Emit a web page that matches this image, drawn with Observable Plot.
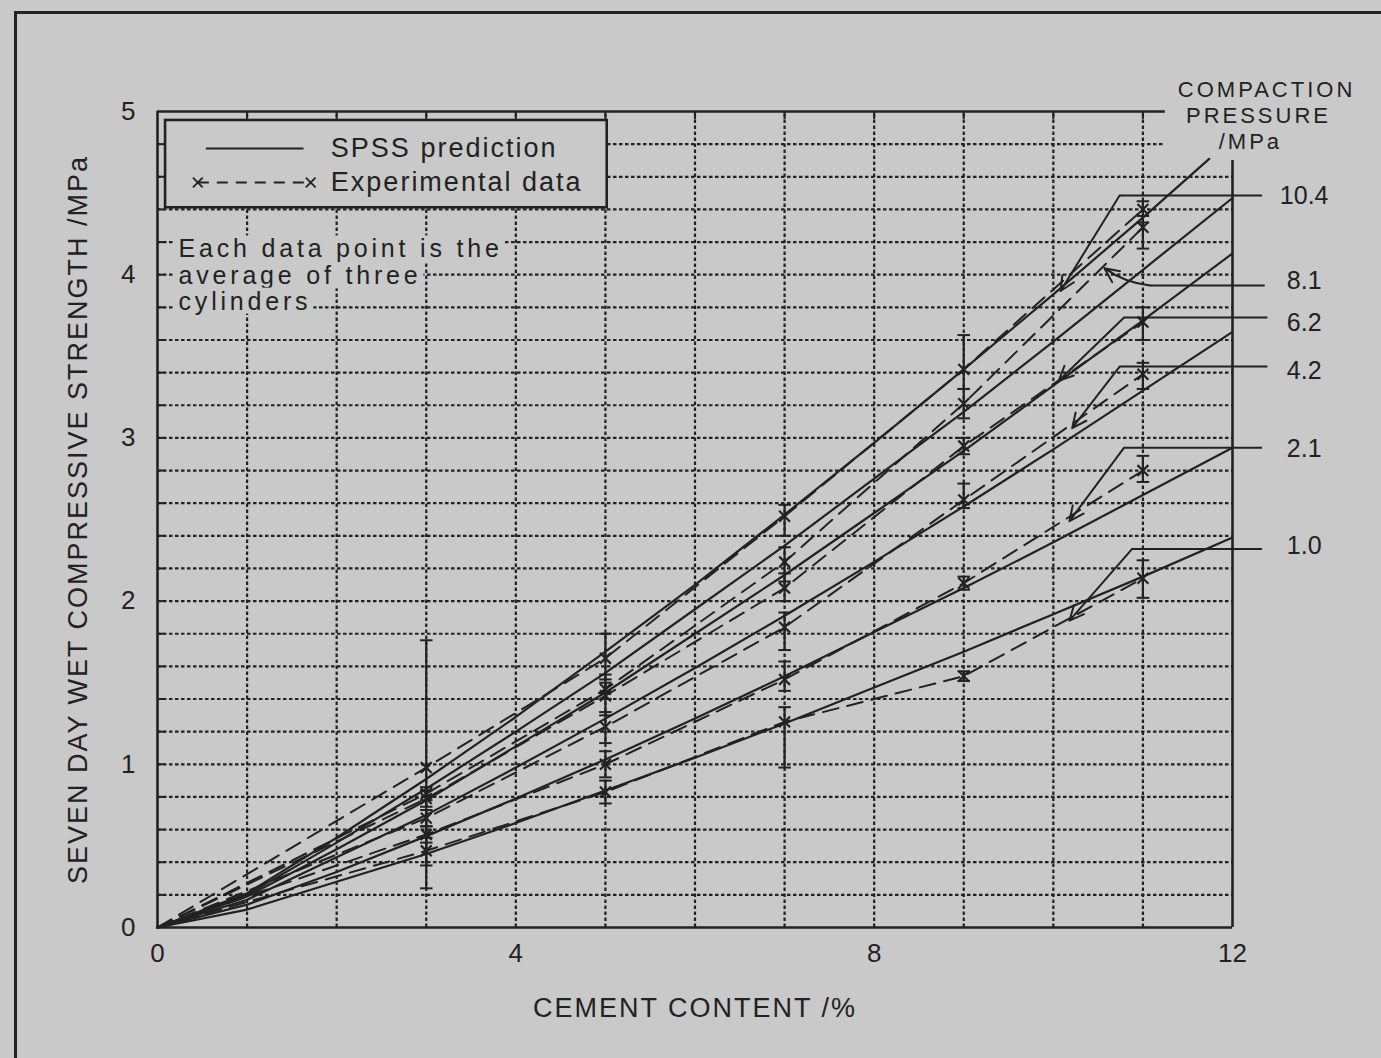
<!DOCTYPE html>
<html><head><meta charset="utf-8">
<script src="https://cdn.jsdelivr.net/npm/d3@7"></script>
<script src="https://cdn.jsdelivr.net/npm/@observablehq/plot@0.6"></script>
<style>
html,body{margin:0;padding:0;background:#c9c9c9;}
#wrap{position:relative;width:1381px;height:1058px;overflow:hidden;background:#c9c9c9;}
#frame{position:absolute;left:14px;top:11px;width:1400px;height:1100px;border-left:3px solid #232323;border-top:3px solid #232323;}
#chart{position:absolute;left:0;top:0;}
</style></head>
<body><div id="wrap"><div id="frame"></div><div id="chart"></div></div>
<script>
// ---- data ----
const pressures = ["10.4", "8.1", "6.2", "4.2", "2.1", "1.0"];
// SPSS prediction curves
const predX = [0, 1, 2, 3, 4, 5, 6, 7, 8, 9, 10, 11, 12];
const predX104 = [0, 1, 2, 3, 4, 5, 6, 7, 8, 9, 10, 11, 11.74];
const pred104 = [0, 0.21, 0.55, 0.91, 1.29, 1.69, 2.10, 2.53, 2.97, 3.42, 3.88, 4.35, 4.71];
const pred81  = [0, 0.20, 0.52, 0.85, 1.20, 1.56, 1.95, 2.34, 2.75, 3.16, 3.59, 4.03, 4.47];
const pred62  = [0, 0.19, 0.48, 0.78, 1.11, 1.44, 1.80, 2.16, 2.54, 2.92, 3.32, 3.72, 4.13];
const pred42  = [0, 0.17, 0.43, 0.69, 0.98, 1.28, 1.59, 1.91, 2.24, 2.58, 2.93, 3.29, 3.65];
const pred21  = [0, 0.14, 0.34, 0.56, 0.79, 1.03, 1.28, 1.54, 1.81, 2.08, 2.36, 2.65, 2.94];
const pred10  = [0, 0.11, 0.28, 0.45, 0.64, 0.84, 1.04, 1.25, 1.47, 1.69, 1.92, 2.15, 2.39];
// experimental data (averages) and error bars
const expX = [0, 3, 5, 7, 9, 11];
const exp104 = [0, 0.98, 1.65, 2.52, 3.42, 4.40];
const exp81  = [0, 0.82, 1.46, 2.24, 3.21, 4.29];
const exp62  = [0, 0.79, 1.42, 2.08, 2.95, 3.71];
const exp42  = [0, 0.67, 1.23, 1.84, 2.62, 3.39];
const exp21  = [0, 0.57, 1.00, 1.52, 2.11, 2.80];
const exp10  = [0, 0.47, 0.83, 1.26, 1.54, 2.14];
const lo104 = [null, 0.24, 1.52, 2.40, 3.30, 4.32];
const hi104 = [null, 1.76, 1.80, 2.59, 3.63, 4.45];
const lo81  = [null, 0.78, 1.40, 2.12, 3.12, 4.16];
const hi81  = [null, 0.86, 1.55, 2.33, 3.30, 4.36];
const lo62  = [null, 0.74, 1.30, 2.00, 2.90, 3.60];
const hi62  = [null, 0.84, 1.50, 2.17, 3.00, 3.80];
const lo42  = [null, 0.62, 1.13, 1.70, 2.57, 3.30];
const hi42  = [null, 0.72, 1.32, 1.93, 2.72, 3.46];
const lo21  = [null, 0.52, 0.92, 1.45, 2.07, 2.73];
const hi21  = [null, 0.62, 1.08, 1.63, 2.15, 2.89];
const lo10  = [null, 0.38, 0.76, 0.98, 1.51, 2.02];
const hi10  = [null, 0.55, 0.90, 1.35, 1.57, 2.25];
// right-hand labels and their leader lines (data units)
const labelY     = [4.485, 3.964, 3.707, 3.407, 2.929, 2.335];
const leaderY    = [4.485, 3.934, 3.738, 3.437, 2.94, 2.32];
const leaderEndX = [12.33, 12.36, 12.39, 12.39, 12.33, 12.33];
const kneeX      = [10.74, 11.08, 10.79, 10.74, 10.79, 10.88];
const tipX       = [10.08, 10.57, 10.06, 10.21, 10.18, 10.18];
const tipY       = [3.90, 4.04, 3.35, 3.06, 2.49, 1.88];
// axes and texts
const xTickLabels = [0, 4, 8, 12];
const yTickLabels = [0, 1, 2, 3, 4, 5];
const gridX = [1, 2, 3, 4, 5, 6, 7, 8, 9, 10, 11];
const gridY = [0.2, 0.4, 0.6, 0.8, 1, 1.2, 1.4, 1.6, 1.8, 2, 2.2, 2.4, 2.6, 2.8, 3, 3.2, 3.4, 3.6, 3.8, 4, 4.2, 4.4, 4.6, 4.8];
const xTitle = "CEMENT CONTENT /%";
const yTitle = "SEVEN DAY WET COMPRESSIVE STRENGTH /MPa";
const headerLines = ["COMPACTION", "PRESSURE", "/MPa"];
const noteLines = ["Each data point is the", "average of three", "cylinders"];
const legendLabels = ["SPSS prediction", "Experimental data"];

// ---- build tables ----
const predSets = [[predX104, pred104], [predX, pred81], [predX, pred62], [predX, pred42], [predX, pred21], [predX, pred10]];
const pred = predSets.flatMap(([xs, ys], i) => xs.map((x, j) => ({p: pressures[i], x, y: ys[j]})));
const expSets = [[exp104, lo104, hi104], [exp81, lo81, hi81], [exp62, lo62, hi62], [exp42, lo42, hi42], [exp21, lo21, hi21], [exp10, lo10, hi10]];
const expAll = expSets.flatMap(([ys, los, his], i) => expX.map((x, j) => ({p: pressures[i], x, y: ys[j], lo: los[j], hi: his[j]})));
const expPts = expAll.filter(d => d.lo != null);
const leaders = pressures.map((p, i) => ({p, ly: labelY[i], y: leaderY[i], xe: leaderEndX[i], xk: kneeX[i], xt: tipX[i], yt: tipY[i]}));
const straightLeaders = leaders.filter(d => d.p !== "8.1");
const bentLeaders = leaders.filter(d => d.p === "8.1");
const headerData = headerLines.map((t, i) => ({t, x: [12.38, 12.29, 12.2][i], y: [5.135, 4.975, 4.816][i]}));
const noteData = noteLines.map((t, i) => ({t, y: [4.155, 3.99, 3.835][i]}));

const ink = "#222", bg = "#c9c9c9";
const font = "'Liberation Sans', Arial, Helvetica, sans-serif";
const capW = 0.07;

const chart = Plot.plot({
  width: 1381, height: 1058,
  marginLeft: 157, marginRight: 149, marginTop: 111, marginBottom: 131,
  x: {domain: [0, 12]},
  y: {domain: [0, 5]},
  style: {background: "transparent", fontFamily: font, color: ink, overflow: "visible"},
  marks: [
    // dotted grid
    Plot.ruleX(gridX, {y1: 0, y2: 5, stroke: ink, strokeWidth: 2.2, strokeDasharray: "3.5,2.5"}),
    Plot.ruleY(gridY, {x1: 0, x2: d => d > 4.7 ? 11.25 : 12, stroke: ink, strokeWidth: 2.2, strokeDasharray: "3.5,2.5"}),
    // inner ticks
    Plot.ruleX(gridX, {y1: 5, y2: 4.95, stroke: ink, strokeWidth: 2}),
    Plot.ruleY(gridY, {x1: 0, x2: 0.08, stroke: ink, strokeWidth: 2}),
    // plot frame
    Plot.ruleY([0], {x1: 0, x2: 12, stroke: ink, strokeWidth: 2.6}),
    Plot.ruleY([5], {x1: 0, x2: 11.25, stroke: ink, strokeWidth: 2.6}),
    Plot.ruleX([0], {y1: 0, y2: 5, stroke: ink, strokeWidth: 2.6}),
    Plot.ruleX([12], {y1: 0, y2: 4.70, stroke: ink, strokeWidth: 2.6}),
    // legend box
    Plot.rect([0], {x1: 0.09, x2: 5.02, y1: 4.41, y2: 4.945, fill: bg, stroke: ink, strokeWidth: 2.6}),
    Plot.link([0], {x1: 0.54, x2: 1.63, y1: 4.773, y2: 4.773, stroke: ink, strokeWidth: 2}),
    Plot.link([0], {x1: 0.45, x2: 1.71, y1: 4.565, y2: 4.565, stroke: ink, strokeWidth: 2, strokeDasharray: "11,8"}),
    Plot.dot([0.45, 1.71], {x: d => d, y: 4.565, symbol: "times", r: 4.5, stroke: ink, strokeWidth: 1.8}),
    Plot.text(legendLabels, {x: 1.935, y: (d, i) => [4.773, 4.565][i], text: d => d, textAnchor: "start", fontSize: 27, fill: ink}),
    // note
    Plot.text(noteData, {x: 0.235, y: "y", text: "t", textAnchor: "start", fontSize: 25, fill: ink}),
    // prediction curves
    Plot.line(pred, {x: "x", y: "y", z: "p", stroke: ink, strokeWidth: 2.2}),
    // experimental data
    Plot.line(expAll, {x: "x", y: "y", z: "p", stroke: ink, strokeWidth: 2, strokeDasharray: "16,9"}),
    Plot.ruleX(expPts, {x: "x", y1: "lo", y2: "hi", stroke: ink, strokeWidth: 2.2}),
    Plot.link(expPts, {x1: d => d.x - capW, x2: d => d.x + capW, y1: "lo", y2: "lo", stroke: ink, strokeWidth: 2}),
    Plot.link(expPts, {x1: d => d.x - capW, x2: d => d.x + capW, y1: "hi", y2: "hi", stroke: ink, strokeWidth: 2}),
    Plot.dot(expPts, {x: "x", y: "y", symbol: "times", r: 5, stroke: ink, strokeWidth: 2.2}),
    // leaders and labels
    Plot.link(leaders, {x1: "xe", x2: "xk", y1: "y", y2: "y", stroke: ink, strokeWidth: 2}),
    Plot.arrow(straightLeaders, {x1: "xk", y1: "y", x2: "xt", y2: "yt", stroke: ink, strokeWidth: 2, headLength: 12, headAngle: 50}),
    Plot.arrow(bentLeaders, {x1: "xk", y1: "y", x2: "xt", y2: "yt", stroke: ink, strokeWidth: 2, headLength: 12, headAngle: 50, bend: 15}),
    Plot.text(leaders, {x: 12.8, y: "ly", text: "p", fontSize: 25, fill: ink}),
    Plot.text(headerData, {x: "x", y: "y", text: "t", fontSize: 22, fill: ink}),
    // axes
    Plot.axisX({ticks: xTickLabels, tickSize: 0, tickPadding: 16, fontSize: 26, label: null, tickFormat: d => String(d)}),
    Plot.axisY({ticks: yTickLabels, tickSize: 0, tickPadding: 22, fontSize: 26, label: null, tickFormat: d => String(d)}),
    Plot.text([xTitle], {frameAnchor: "bottom", dy: 81, lineAnchor: "middle", textAnchor: "middle", fontSize: 27, fill: ink}),
    Plot.text([yTitle], {frameAnchor: "left", dx: -79, rotate: -90, lineAnchor: "middle", textAnchor: "middle", fontSize: 27, fill: ink})
  ]
});
// widen letter spacing to match the plotter lettering
const spacing = new Map([
  ...legendLabels.map(t => [t, 2]),
  ...noteLines.map(t => [t, 3.8]),
  ...headerLines.map(t => [t, 3]),
  [xTitle, 2], [yTitle, 2]
]);
d3.select(chart).selectAll("text").each(function () {
  const s = spacing.get(this.textContent);
  if (s) this.style.letterSpacing = s + "px";
});
document.getElementById("chart").appendChild(chart);
// opaque background behind each line of the note, hiding the grid as in the original
d3.select(chart).selectAll("text")
  .filter(function () { return noteLines.includes(this.textContent); })
  .each(function () {
    const b = this.getBBox();
    const r = document.createElementNS("http://www.w3.org/2000/svg", "rect");
    r.setAttribute("x", b.x - 4);
    r.setAttribute("y", b.y + 1);
    r.setAttribute("width", b.width + 6);
    r.setAttribute("height", b.height - 2);
    r.setAttribute("fill", bg);
    const t = this.getAttribute("transform");
    if (t) r.setAttribute("transform", t);
    this.parentNode.insertBefore(r, this);
  });
</script>
</body></html>
